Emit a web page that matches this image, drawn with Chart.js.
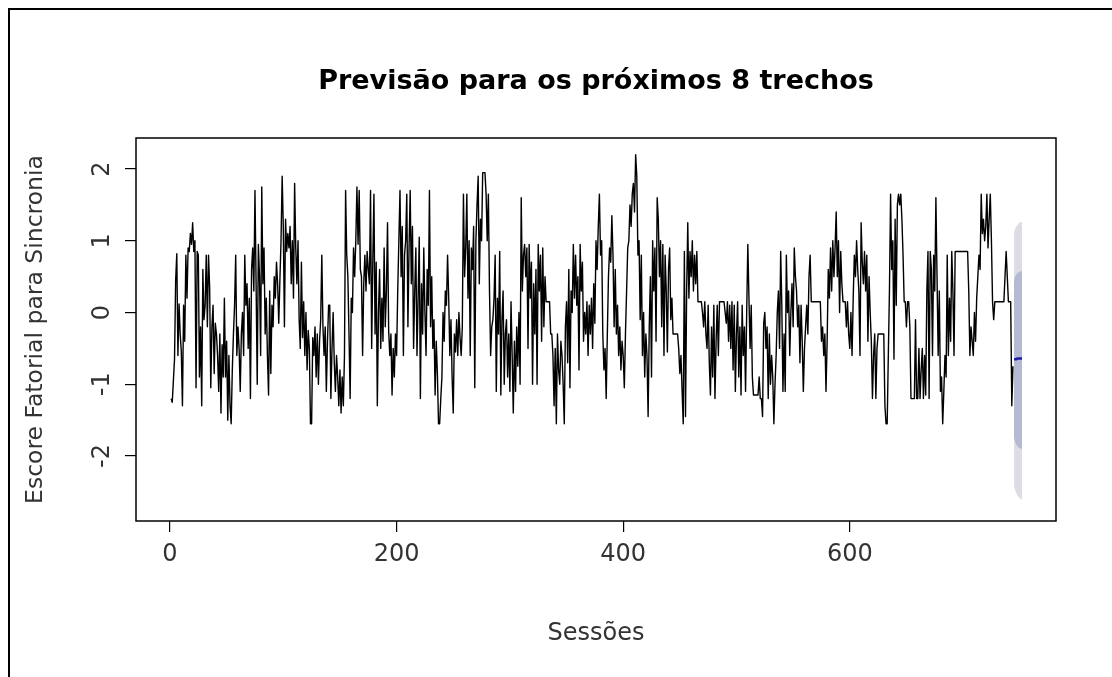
<!DOCTYPE html>
<html><head><meta charset="utf-8">
<script src="https://cdn.jsdelivr.net/npm/chart.js@4.4.1/dist/chart.umd.min.js"></script>
<style>html,body{margin:0;padding:0;background:#fff;overflow:hidden}#wrap{width:1112px;height:677px;position:relative}</style>
</head><body><div id="wrap"><canvas id="c" width="1112" height="677"></canvas></div>
<script>
const titleText = 'Previsão para os próximos 8 trechos';
const xLabel = 'Sessões';
const yLabel = 'Escore Fatorial para Sincronia';
const xTicks = [0, 200, 400, 600];
const yTicks = [-2, -1, 0, 1, 2];

// observed series, sessions 1..744
const observed = [
-1.2,-1.25,-0.95,-0.65,0.45,0.82,-0.6,0.12,-0.3,-0.55,
-1.3,0.1,-0.4,0.8,0.2,0.9,0.85,1.1,0.95,1.25,
0.85,1.0,-1.05,0.85,0.8,-0.9,-0.2,-1.3,0.6,-0.1,
0.1,0.8,-0.2,0.8,0.35,-1.05,-0.2,0.1,-0.85,-0.15,
-0.3,-0.6,-1.1,-0.3,-1.4,-0.45,-0.9,0.2,-0.9,-0.4,
-1.5,-0.6,-1.3,-1.55,-0.8,-0.3,0.1,0.8,-0.6,-0.2,
-0.5,-1.1,-0.3,0.0,-0.6,0.8,0.1,0.4,-0.5,0.2,
-1.2,0.6,0.9,0.3,1.7,0.4,-1.0,0.95,0.5,-0.6,
1.75,0.4,0.9,-0.3,0.2,-0.6,-1.15,0.3,-0.85,0.1,
-0.2,0.5,0.2,0.7,0.4,-0.15,0.45,1.0,1.9,1.2,
-0.2,1.3,0.85,1.1,0.9,1.2,0.4,1.0,0.2,1.8,
0.9,0.4,1.0,-0.1,-0.5,0.7,-0.35,0.15,-0.6,0.0,
-0.8,-0.25,-0.5,-1.55,-1.55,-0.35,-0.6,-0.2,-0.9,-0.3,
-1.0,-0.4,-0.1,0.8,-0.2,-0.6,-0.2,-1.1,-0.4,0.1,
0.1,-1.2,-0.5,0.0,-0.7,-1.1,-0.6,-0.9,-1.3,-0.8,
-1.4,-0.9,-1.3,-0.6,1.7,0.8,0.5,-0.3,-1.2,0.2,
0.0,0.9,0.5,1.0,1.75,0.95,1.7,0.6,0.5,-0.6,
0.4,0.8,0.3,0.85,0.6,0.4,1.7,-0.5,0.7,1.65,
-0.3,0.7,-1.3,0.0,0.6,-0.5,0.2,-0.4,0.9,-0.2,
0.3,1.25,-0.25,-0.6,-0.3,-1.15,-0.5,-0.9,-0.3,-0.6,
0.3,1.0,1.7,0.5,1.2,-0.6,0.8,1.0,1.65,-0.2,
0.9,1.7,0.4,1.2,-0.5,
0.3,0.9,-0.6,0.2,1.05,-1.2,0.4,-0.3,0.9,0.0,
-0.6,0.6,0.1,1.7,-0.2,0.5,
-0.5,-0.1,-1.15,-0.4,-0.85,-1.55,-1.55,-1.2,-0.9,
0.0,-0.4,0.3,0.1,0.8,0.2,-0.6,-0.1,-0.9,-1.4,
-0.3,-0.55,-0.1,-0.6,0.0,-0.35,-0.6,-0.2,
1.65,0.5,0.9,1.65,0.2,1.0,-0.6,0.9,0.6,
1.2,-1.05,1.0,1.5,1.9,0.4,1.3,1.0,
1.95,1.95,1.95,1.65,1.0,1.65,
0.3,-0.6,-0.2,-0.1,0.2,0.8,-1.1,0.2,-0.3,0.85,-1.15,-0.1,0.3,-1.0,
-0.3,-0.1,-0.9,-0.3,-1.1,0.15,-0.6,-1.4,-0.4,-1.1,
-0.2,-0.75,0.0,-1.0,1.6,0.3,0.8,0.95,0.5,0.9,
-0.5,0.95,0.2,0.7,-1.0,0.4,-0.3,0.6,-1.0,0.95,
0.3,0.8,-0.4,0.9,-0.2,0.5,0.15,0.15,0.15,0.15,
-0.3,-0.3,-0.6,-1.3,-0.5,-1.55,-0.3,-0.8,-1.0,-0.4,
-0.6,-1.0,-1.55,-0.2,0.15,-0.7,0.6,-1.05,0.3,0.0,
0.95,0.2,0.8,0.1,0.5,-0.8,0.95,0.3,0.7,-0.4,
0.0,-0.3,0.15,-0.6,0.1,-0.3,0.2,-0.5,0.4,-0.15,
1.0,0.6,1.2,1.65,0.8,1.0,-0.3,
-0.8,-0.5,-1.2,-0.3,0.5,0.9,0.7,
1.35,0.8,-0.2,0.6,-0.3,0.1,
-0.6,-0.2,-0.8,-0.4,-0.6,-1.05,-0.3,0.3,
0.9,1.0,1.5,1.2,1.65,1.8,1.4,2.2,1.9,0.8,
1.0,-0.1,0.8,-0.6,0.0,-0.9,-0.3,-0.6,-1.45,-0.2,
0.5,-0.9,1.0,0.3,0.9,-0.4,1.6,1.3,0.5,1.0,-0.2,
0.95,-0.6,0.8,0.3,-0.55,0.6,
0.9,-0.1,0.2,-0.3,-0.3,
-0.3,-0.3,-0.3,-0.5,-0.85,-0.6,-1.1,-1.55,
0.85,-1.45,0.3,1.25,0.2,0.85,0.5,
1.0,0.3,0.8,0.4,0.85,0.15,0.15,
0.15,0.15,0.0,-0.2,0.15,-0.3,
-0.5,0.1,-0.7,-1.15,-0.2,-0.9,0.1,-1.2,-0.4,0.1,-0.6,0.15,
0.15,0.15,0.15,0.15,0.0,-0.15,0.15,-0.4,0.1,
-0.5,0.15,-0.8,0.1,-1.1,-0.3,0.15,-0.9,-0.2,-1.15,0.1,-0.6,-0.2,-1.1,0.0,
0.95,0.2,-0.5,0.1,-0.9,
-1.15,-1.15,-1.15,-1.15,-1.15,-0.9,
-1.2,-1.2,-1.45,-0.15,0.0,-0.5,-0.2,-1.2,-0.3,-1.0,
-0.6,-0.9,-1.55,-1.0,-0.6,0.0,0.3,-0.5,0.85,0.1,
-1.1,-0.3,-1.1,0.8,0.0,0.3,-0.6,0.0,0.4,-0.2,
0.9,0.5,0.3,-0.2,0.1,-0.7,0.1,-0.4,-1.1,-0.5,
-0.2,0.1,-0.3,0.5,0.8,0.15,0.15,0.15,0.15,0.15,
0.15,0.15,0.15,0.15,-0.4,-0.2,-0.6,-0.3,-1.1,-0.4,
0.6,0.2,0.9,0.3,1.0,0.5,0.9,1.4,0.5,1.0,
0.0,0.85,0.4,0.15,0.15,0.15,-0.2,0.15,-0.3,-0.5,
0.0,-0.6,0.2,0.8,0.5,1.0,0.6,0.3,-0.6,1.25,
0.7,0.4,0.85,0.3,0.8,-0.4,0.5,0.0,-0.4,-1.2,
-0.6,-0.3,-1.2,-0.5,-0.3,-0.3,-0.3,-0.3,-0.3,-0.3,
-1.3,-1.55,-1.55,-0.6,0.3,1.65,0.6,1.0,-0.65,1.3,
0.1,1.5,1.65,1.5,1.65,1.3,0.8,0.15,0.15,-0.2,
0.15,0.15,-0.2,-1.2,-1.2,-1.2,-1.2,-0.1,-1.2,-1.2,
-0.5,-1.2,-0.8,-0.5,-1.2,-0.6,-1.15,0.3,0.85,-1.2,
0.85,0.6,-0.6,0.8,0.3,1.6,0.5,-0.6,0.3,-1.1,
-0.9,-1.55,-1.1,-0.6,-0.9,0.8,-0.6,0.2,-0.4,0.85,
0.3,-0.6,0.85,0.85,0.85,0.85,0.85,0.85,0.85,0.85,
0.85,0.85,0.85,0.85,0.3,-0.6,-0.2,-0.4,-0.6,0.0,
-0.4,0.2,0.5,0.8,0.6,1.65,1.1,1.3,1.0,1.2,
1.65,0.9,1.3,1.65,1.0,0.15,-0.1,0.15,0.15,0.15,
0.15,0.15,0.15,0.15,0.15,0.15,0.5,0.85,0.5,0.15,
0.15,0.15,-1.3,-0.75
];

// 8-step forecast and prediction intervals
const fcMean = [-0.65,-0.65,-0.65,-0.64,-0.64,-0.64,-0.64,-0.64];
const hi80 = [0.45,0.5,0.53,0.55,0.56,0.57,0.57,0.58];
const lo80 = [-1.75,-1.8,-1.84,-1.86,-1.88,-1.89,-1.9,-1.9];
const hi95 = [1.12,1.17,1.2,1.22,1.24,1.25,1.26,1.26];
const lo95 = [-2.42,-2.48,-2.52,-2.55,-2.57,-2.59,-2.6,-2.61];

const obsPts = observed.map((v, i) => ({x: i + 1, y: v}));
const fPts = arr => arr.map((v, i) => ({x: observed.length + 1 + i, y: v}));

const FONT = 'DejaVu Sans';

const framePlugin = {
  id: 'frame',
  afterDraw(chart) {
    const ctx = chart.ctx, a = chart.chartArea;
    ctx.save();
    ctx.strokeStyle = '#000';
    ctx.lineWidth = 1.5;
    ctx.strokeRect(a.left, a.top, a.right - a.left, a.bottom - a.top);
    ctx.lineWidth = 2;
    ctx.beginPath();
    ctx.moveTo(9, 700); ctx.lineTo(9, 9); ctx.lineTo(1112, 9);
    ctx.stroke();
    ctx.fillStyle = '#000';
    ctx.font = 'bold 27px "' + FONT + '"';
    ctx.textAlign = 'center';
    ctx.textBaseline = 'middle';
    ctx.fillText(titleText, (a.left + a.right) / 2, 82);
    ctx.restore();
  }
};

new Chart(document.getElementById('c'), {
  type: 'line',
  data: {
    datasets: [
      {label: 'mean', data: fPts(fcMean), borderColor: '#1c1ca8', borderWidth: 2.5, pointRadius: 0, fill: false, order: 0},
      {label: 'obs', data: obsPts, borderColor: '#000', borderWidth: 1.4, pointRadius: 0, fill: false, borderJoinStyle: 'round', order: 1},
      {label: 'hi80', data: fPts(hi80), borderWidth: 0, borderColor: 'rgba(0,0,0,0)', pointRadius: 0, fill: '+1', backgroundColor: '#b5bad3', order: 2},
      {label: 'lo80', data: fPts(lo80), borderWidth: 0, borderColor: 'rgba(0,0,0,0)', pointRadius: 0, fill: false, order: 3},
      {label: 'hi95', data: fPts(hi95), borderWidth: 0, borderColor: 'rgba(0,0,0,0)', pointRadius: 0, fill: '+1', backgroundColor: '#dcdde4', order: 4},
      {label: 'lo95', data: fPts(lo95), borderWidth: 0, borderColor: 'rgba(0,0,0,0)', pointRadius: 0, fill: false, order: 5}
    ]
  },
  options: {
    responsive: false,
    devicePixelRatio: 1,
    animation: false,
    events: [],
    layout: {padding: {top: 138, right: 56, bottom: 0, left: 0}},
    plugins: {legend: {display: false}, tooltip: {enabled: false}, title: {display: false}},
    elements: {line: {tension: 0}},
    scales: {
      x: {
        type: 'linear', min: -30, max: 782,
        afterBuildTicks: s => { s.ticks = xTicks.map(v => ({value: v})); },
        afterFit: s => { s.height = 156; },
        grid: {drawOnChartArea: false, drawTicks: true, tickLength: 11, color: '#000', tickColor: '#000', lineWidth: 1.2},
        border: {display: false},
        ticks: {color: '#333', font: {family: FONT, size: 24}, padding: 8, maxRotation: 0, minRotation: 0, callback: v => String(v)},
        title: {display: true, text: xLabel, color: '#333', font: {family: FONT, size: 24}, padding: {top: 0, bottom: 29}}
      },
      y: {
        type: 'linear', min: -2.906, max: 2.432,
        afterBuildTicks: s => { s.ticks = yTicks.map(v => ({value: v})); },
        afterFit: s => { s.width = 136; },
        grid: {drawOnChartArea: false, drawTicks: true, tickLength: 11, color: '#000', tickColor: '#000', lineWidth: 1.2},
        border: {display: false},
        ticks: {color: '#333', font: {family: FONT, size: 24}, padding: 10, minRotation: 90, maxRotation: 90, crossAlign: 'center', callback: v => String(v)},
        title: {display: true, text: yLabel, color: '#333', font: {family: FONT, size: 23.5}, padding: {top: 22, bottom: 0}}
      }
    }
  },
  plugins: [framePlugin]
});
</script>
</body></html>
